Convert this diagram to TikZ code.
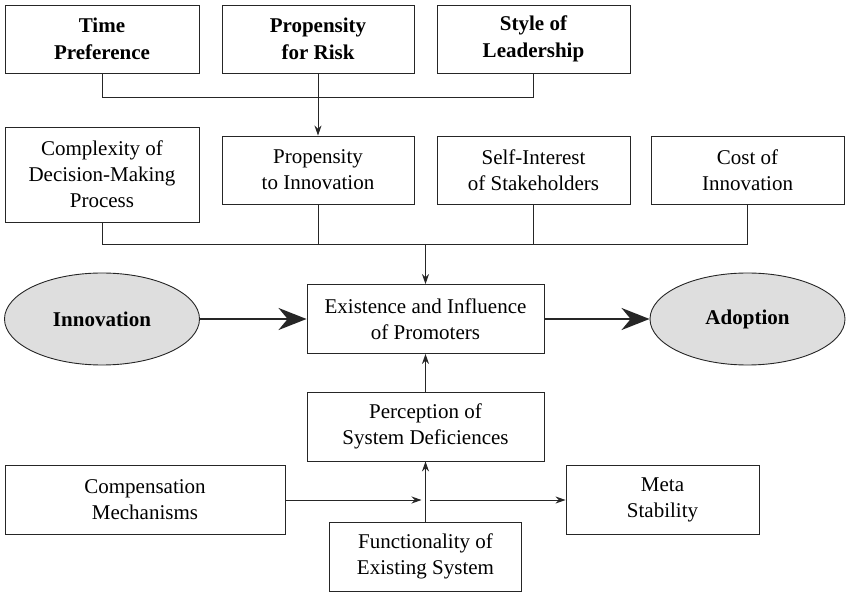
\documentclass[tikz,border=0pt]{standalone}
\usepackage{fontspec}
\setmainfont{Liberation Serif}
\usetikzlibrary{arrows.meta,shapes.geometric}

\begin{document}
\begin{tikzpicture}[x=1pt,y=-1pt,>={Stealth[length=10pt,width=7pt]},
      line width=0.9pt,draw=black!85,
      box/.style={draw,rectangle,align=center,inner sep=0pt,
      font=\fontsize{21}{26}\selectfont},
      bold box/.style={box,font=\fontsize{21}{27}\selectfont\bfseries},
      end node/.style={draw,ellipse,fill=black!13,inner sep=0pt,
      minimum width=195,minimum height=92,
      font=\fontsize{21}{26}\selectfont\bfseries},
      big arrow/.style={line width=2.6pt,-{Stealth[length=28pt,width=22pt]}}]
      \useasboundingbox (0,0) rectangle (846,593);

      %% THESE ARE THE NODES.  POSITIONS ARE IN PIXELS OF THE ORIGINAL
      \node[bold box,minimum width=194,minimum height=68] (time) at (102,39) {Time\\Preference};
      \node[bold box,minimum width=192,minimum height=68] (risk) at (318,39) {Propensity\\for Risk};
      \node[bold box,minimum width=193,minimum height=68] (style) at (533.5,39) {Style of\\Leadership};

      \node[box,minimum width=194,minimum height=95] (complex) at (102,174.5) {Complexity of\\Decision-Making\\Process};
      \node[box,minimum width=192,minimum height=68] (propinn) at (318,170) {Propensity\\to Innovation};
      \node[box,minimum width=193,minimum height=68] (selfint) at (533.5,170) {Self-Interest\\of Stakeholders};
      \node[box,minimum width=193,minimum height=68] (cost) at (747.5,170) {Cost of\\Innovation};

      \node[end node] (innov) at (102,319) {Innovation};
      \node[box,minimum width=237,minimum height=69] (exist) at (425.5,319) {Existence and Influence\\of Promoters};
      \node[end node] (adopt) at (747.5,319) {Adoption};

      \node[box,minimum width=237,minimum height=69] (percept) at (425.5,426.5) {Perception of\\System Deficiences};
      \node[box,minimum width=280,minimum height=69] (compens) at (145,500) {Compensation\\Mechanisms};
      \node[box,minimum width=193,minimum height=69] (meta) at (662.5,500) {Meta\\Stability};
      \node[box,minimum width=192,minimum height=69] (funct) at (425.5,556.5) {Functionality of\\Existing System};

      %% THESE ARE THE JOINTS OF THE CONNECTORS
      \coordinate (j1) at (318,97);
      \coordinate (j2) at (425.5,244);
      \coordinate (j3) at (425.5,500);

      %% THESE ARE THE EDGES.
      \draw (time.south) |- (style.south |- j1) -- (style.south);
      \draw[->] (risk) -- (propinn);

      \draw (complex.south) |- (cost.south |- j2) -- (cost.south);
      \draw (propinn.south) -- (propinn.south |- j2);
      \draw (selfint.south) -- (selfint.south |- j2);
      \draw[->] (j2) -- (exist);

      \draw[big arrow] (innov) -- (exist);
      \draw[big arrow] (exist) -- (adopt);

      \draw[->] (percept) -- (exist);
      \draw[->] (funct) -- (percept);
      \draw[->] (compens) -- ([xshift=-4pt]j3);
      \draw[->] ([xshift=4pt]j3) -- (meta);
\end{tikzpicture}
\end{document}
